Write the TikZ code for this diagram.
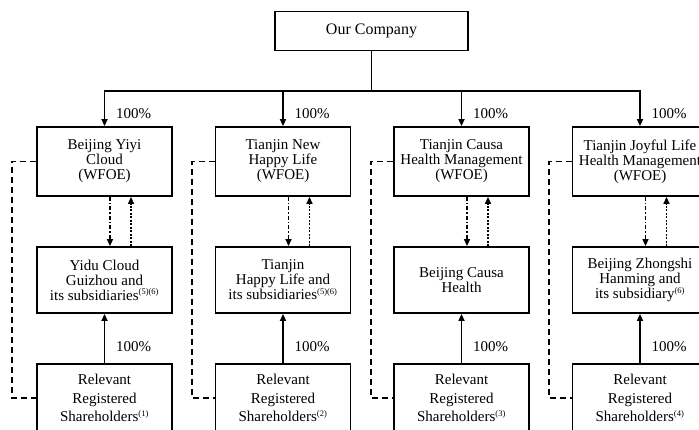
\documentclass[tikz,border=0pt]{standalone}
\usepackage{fontspec}
\setmainfont{Liberation Serif}
\usetikzlibrary{arrows.meta}
\newcommand{\fnote}[1]{\textsuperscript{\fontsize{8.5}{8.5}\selectfont #1}}
\tikzset{entity/.style={black,draw=black,line width=1.8pt,rectangle,minimum width=135pt,inner sep=0pt,align=center,font=\fontsize{15}{15}\selectfont}}
\tikzset{parent/.style={entity,minimum width=193pt,minimum height=39pt,font=\fontsize{16}{16}\selectfont}}
\tikzset{wfoe/.style={entity,minimum height=69pt}}
\tikzset{opco/.style={entity,minimum height=66pt}}
\tikzset{holder/.style={entity,minimum height=68pt,font=\fontsize{15}{18.5}\selectfont}}
\tikzset{pct/.style={anchor=west,inner sep=0pt,font=\fontsize{15}{15}\selectfont}}
\tikzset{own/.style={line width=1.6pt,-{Triangle[length=7pt,width=6pt]}}}
\tikzset{svc/.style={line width=1.4pt,dash pattern=on 4pt off 2pt on 1.5pt off 2pt,-{Triangle[length=7pt,width=6pt]}}}
\tikzset{fee/.style={line width=1.4pt,dash pattern=on 2pt off 1.5pt,-{Triangle[length=7pt,width=6pt]}}}
\tikzset{vie/.style={line width=1.6pt,dash pattern=on 6pt off 4pt}}

\begin{document}
\begin{tikzpicture}[x=1pt,y=-1pt]
    \clip (0,0) rectangle (699,429);

    \node[parent] (company) at (371.5,31) {Our Company};
    \coordinate (bus) at (371.5,91);

    \node[wfoe] (wfoe1) at (104.5,161.5) {Beijing Yiyi\\Cloud\\(WFOE)};
    \node[wfoe] (wfoe2) at (283,161.5) {Tianjin New\\Happy Life\\(WFOE)};
    \node[wfoe] (wfoe3) at (461.5,161.5) {Tianjin Causa\\Health Management\\(WFOE)};
    \node[wfoe] (wfoe4) at (640,161.5) {Tianjin Joyful Life\\Health Management\\(WFOE)};

    \node[opco] (opco1) at (104.5,280) {Yidu Cloud\\Guizhou and\\its subsidiaries\fnote{(5)(6)}};
    \node[opco] (opco2) at (283,280) {Tianjin\\Happy Life and\\its subsidiaries\fnote{(5)(6)}};
    \node[opco] (opco3) at (461.5,280) {Beijing Causa\\Health};
    \node[opco] (opco4) at (640,280) {Beijing Zhongshi\\Hanming and\\its subsidiary\fnote{(6)}};

    \node[holder] (holder1) at (104.5,398) {Relevant\\Registered\\Shareholders\fnote{(1)}};
    \node[holder] (holder2) at (283,398) {Relevant\\Registered\\Shareholders\fnote{(2)}};
    \node[holder] (holder3) at (461.5,398) {Relevant\\Registered\\Shareholders\fnote{(3)}};
    \node[holder] (holder4) at (640,398) {Relevant\\Registered\\Shareholders\fnote{(4)}};

    \node[pct] (top1) at (116,114) {100\%};
    \node[pct] (top2) at (294.5,114) {100\%};
    \node[pct] (top3) at (473,114) {100\%};
    \node[pct] (top4) at (651.5,114) {100\%};
    \node[pct] (low1) at (116,347) {100\%};
    \node[pct] (low2) at (294.5,347) {100\%};
    \node[pct] (low3) at (473,347) {100\%};
    \node[pct] (low4) at (651.5,347) {100\%};

    \coordinate (vie1) at (12,280);
    \coordinate (vie2) at (192,280);
    \coordinate (vie3) at (371,280);
    \coordinate (vie4) at (549,280);

    \draw[line width=1.6pt] (company) -- (bus);
    \draw[own] (bus) -| (wfoe1);
    \draw[own] (bus) -| (wfoe2);
    \draw[own] (bus) -| (wfoe3);
    \draw[own] (bus) -| (wfoe4);

    \draw[svc] ([xshift=5.5pt]wfoe1.south) -- ([xshift=5.5pt]opco1.north);
    \draw[fee] ([xshift=26.5pt]opco1.north) -- ([xshift=26.5pt]wfoe1.south);
    \draw[svc] ([xshift=5.5pt]wfoe2.south) -- ([xshift=5.5pt]opco2.north);
    \draw[fee] ([xshift=26.5pt]opco2.north) -- ([xshift=26.5pt]wfoe2.south);
    \draw[svc] ([xshift=5.5pt]wfoe3.south) -- ([xshift=5.5pt]opco3.north);
    \draw[fee] ([xshift=26.5pt]opco3.north) -- ([xshift=26.5pt]wfoe3.south);
    \draw[svc] ([xshift=5.5pt]wfoe4.south) -- ([xshift=5.5pt]opco4.north);
    \draw[fee] ([xshift=26.5pt]opco4.north) -- ([xshift=26.5pt]wfoe4.south);

    \draw[own] (holder1) -- (opco1);
    \draw[own] (holder2) -- (opco2);
    \draw[own] (holder3) -- (opco3);
    \draw[own] (holder4) -- (opco4);

    \draw[vie] (wfoe1.west) -| (vie1) |- (holder1.west);
    \draw[vie] (wfoe2.west) -| (vie2) |- (holder2.west);
    \draw[vie] (wfoe3.west) -| (vie3) |- (holder3.west);
    \draw[vie] (wfoe4.west) -| (vie4) |- (holder4.west);
\end{tikzpicture}
\end{document}
